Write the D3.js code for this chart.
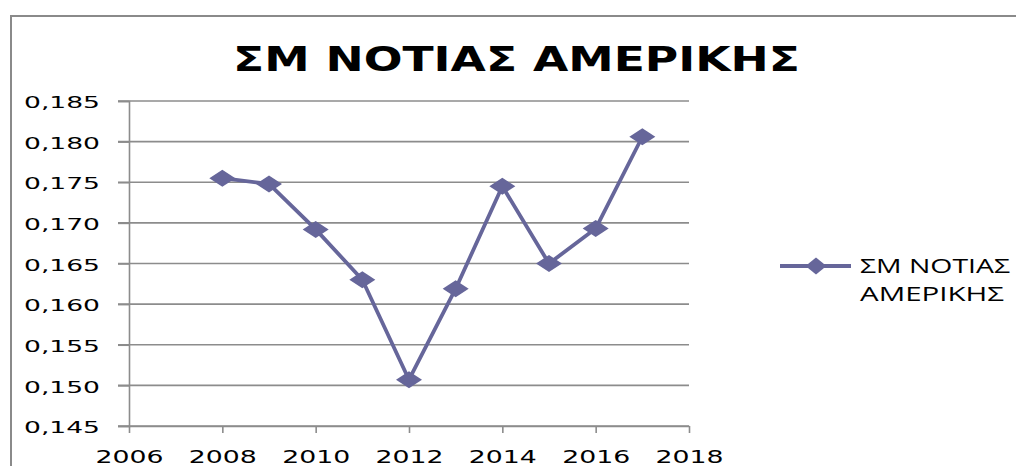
<!DOCTYPE html>
<html>
<head>
<meta charset="utf-8">
<script src="https://cdn.jsdelivr.net/npm/d3@7"></script>
<style>
  body { margin: 0; background: #fff; }
  svg { display: block; }
</style>
</head>
<body>
<svg id="chart" width="1016" height="466"></svg>
<script>
// data
const title = 'ΣΜ ΝΟΤΙΑΣ ΑΜΕΡΙΚΗΣ'
const seriesName = ['ΣΜ ΝΟΤΙΑΣ', 'ΑΜΕΡΙΚΗΣ']
const years = [2008, 2009, 2010, 2011, 2012, 2013, 2014, 2015, 2016, 2017]
const values = [0.1755, 0.1748, 0.1692, 0.1630, 0.1507, 0.1619, 0.1745, 0.1650, 0.1693, 0.1806]
const xTicks = [2006, 2008, 2010, 2012, 2014, 2016, 2018]
const yTicks = [0.145, 0.150, 0.155, 0.160, 0.165, 0.170, 0.175, 0.180, 0.185]

const svg = d3.select('#chart')
const col = '#66669a', grid = '#8c8c8c'

/* outer frame (cut off at right and bottom) */
svg.append('path')
    .attr('d', 'M11,470 L11,16 L1020,16')
    .attr('fill', 'none').attr('stroke', '#8a8a8a').attr('stroke-width', 2)

/* title, stretched like the original */
svg.append('text')
    .attr('x', 233).attr('y', 71)
    .attr('textLength', 567).attr('lengthAdjust', 'spacingAndGlyphs')
    .attr('font-family', 'DejaVu Sans').attr('font-weight', 'bold')
    .attr('font-size', 33).attr('fill', '#000')
    .text(title)

const x = d3.scaleLinear().domain([2006, 2018]).range([129, 689])
const y = d3.scaleLinear().domain([0.145, 0.185]).range([426, 101])
const fmt = d => d3.format('.3f')(d).replace('.', ',')

/* horizontal gridlines */
svg.append('g').selectAll('line')
    .data(yTicks)
    .join('line')
    .attr('x1', 118).attr('x2', 689)
    .attr('y1', d => y(d)).attr('y2', d => y(d))
    .attr('stroke', grid).attr('stroke-width', 1.6)

/* y axis */
const gy = svg.append('g')
    .attr('transform', 'translate(129,0)')
    .call(d3.axisLeft(y).tickValues(yTicks).tickFormat(fmt).tickSize(11).tickPadding(0))
gy.select('.domain').attr('stroke', grid).attr('stroke-width', 1.6)
gy.selectAll('.tick line').attr('stroke', grid).attr('stroke-width', 1.6)
gy.selectAll('text')
    .attr('x', -29).attr('dy', '0.42em')
    .attr('font-family', 'DejaVu Sans').attr('font-size', 16).attr('fill', '#000')
    .attr('textLength', 76).attr('lengthAdjust', 'spacingAndGlyphs')

/* x axis */
const gx = svg.append('g')
    .attr('transform', 'translate(0,426)')
    .call(d3.axisBottom(x).tickValues(xTicks).tickFormat(d3.format('d')).tickSize(7).tickSizeOuter(0))
gx.select('.domain').attr('stroke', grid).attr('stroke-width', 1.6)
gx.selectAll('.tick line').attr('stroke', grid).attr('stroke-width', 1.6)
gx.selectAll('text')
    .attr('y', 37).attr('dy', 0)
    .attr('font-family', 'DejaVu Sans').attr('font-size', 18).attr('fill', '#000')
    .attr('textLength', 68).attr('lengthAdjust', 'spacingAndGlyphs')

/* series line */
const pts = years.map((d, i) => [d, values[i]])
svg.append('path')
    .datum(pts)
    .attr('d', d3.line().x(d => x(d[0])).y(d => y(d[1])))
    .attr('fill', 'none').attr('stroke', col).attr('stroke-width', 3.8)
    .attr('stroke-linejoin', 'round')

/* diamond markers */
const diamond = (w, h) => `M0,${-h/2} L${w/2},0 L0,${h/2} L${-w/2},0 Z`
svg.append('g').selectAll('path')
    .data(pts)
    .join('path')
    .attr('transform', d => `translate(${x(d[0])},${y(d[1])})`)
    .attr('d', diamond(26, 17))
    .attr('fill', col)

/* legend */
const lg = svg.append('g')
lg.append('line')
    .attr('x1', 780).attr('x2', 851).attr('y1', 266).attr('y2', 266)
    .attr('stroke', col).attr('stroke-width', 3.8)
lg.append('path')
    .attr('transform', 'translate(816,266)')
    .attr('d', diamond(21, 17))
    .attr('fill', col)
lg.selectAll('text')
    .data(seriesName)
    .join('text')
    .attr('x', 860).attr('y', (d, i) => 273 + i * 28)
    .attr('font-family', 'Open Sans').attr('font-size', 20).attr('fill', '#000')
    .attr('textLength', (d, i) => i == 0 ? 150 : 144).attr('lengthAdjust', 'spacingAndGlyphs')
    .text(d => d)
</script>
</body>
</html>
